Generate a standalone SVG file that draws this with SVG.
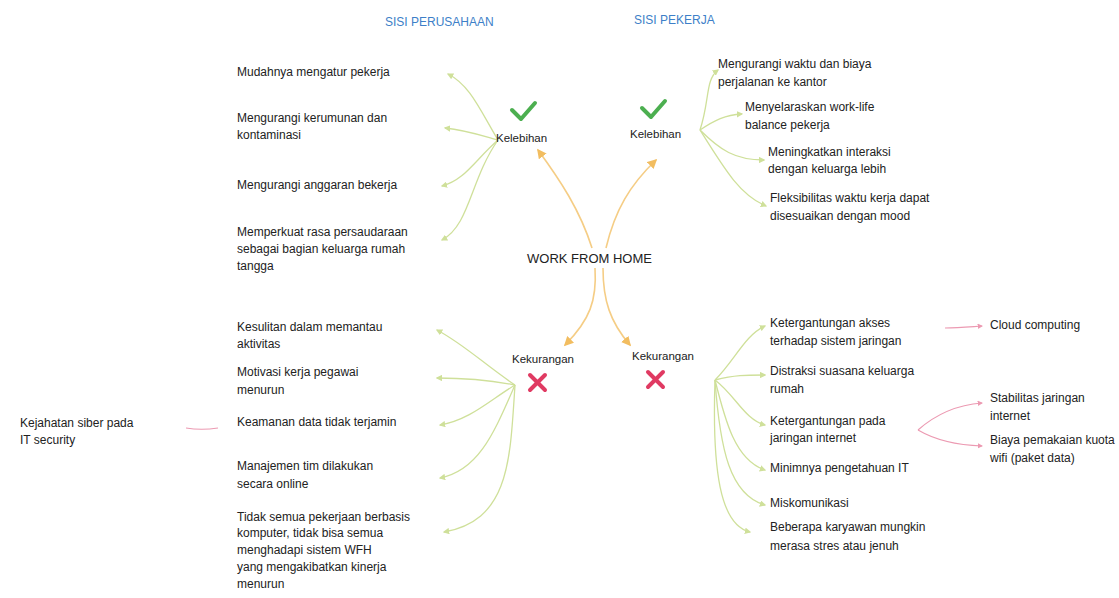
<svg xmlns="http://www.w3.org/2000/svg" width="1119" height="598" viewBox="0 0 1119 598">
<style>
text{font-family:"Liberation Sans","Noto Sans",Arial,sans-serif;fill:#222;font-size:12px}
.hdr{fill:#3d7fc8;font-size:12px}
.main{font-size:13px;fill:#222}
.lbl{font-size:11.5px}
.g{fill:none;stroke:#cfe09a;stroke-width:1.3}
.o{fill:none;stroke:#f5cd85;stroke-width:1.6}
.p{fill:none;stroke:#ec9ab2;stroke-width:1.1}
.ok{fill:none;stroke:#4caf50;stroke-width:4;stroke-linecap:round;stroke-linejoin:round}
.no{stroke:#e03a62;stroke-width:4;stroke-linecap:round}
</style>
<defs>
<marker id="ag" markerWidth="5" markerHeight="5" refX="4" refY="2.5" orient="auto"><path d="M0,0 L5,2.5 L0,5 z" fill="#cfe09a"/></marker>
<marker id="ao" markerWidth="6" markerHeight="6" refX="5" refY="3" orient="auto"><path d="M0,0 L6,3 L0,6 z" fill="#f2bd60"/></marker>
<marker id="ap" markerWidth="5" markerHeight="5" refX="4" refY="2.5" orient="auto"><path d="M0,0 L5,2.5 L0,5 z" fill="#ec9ab2"/></marker>
</defs>
<rect width="1119" height="598" fill="#fff"/>

<g id="connectors">
<path class="o" d="M592,248 C580,210 560,180 538,150" marker-end="url(#ao)"/>
<path class="o" d="M606,248 C615,210 630,185 656,160" marker-end="url(#ao)"/>
<path class="o" d="M595,268 C597,300 590,320 565,345" marker-end="url(#ao)"/>
<path class="o" d="M603,268 C603,300 610,322 630,345" marker-end="url(#ao)"/>

<path class="g" d="M498,140 C480,110 470,85 448,74" marker-end="url(#ag)"/>
<path class="g" d="M498,140 C480,135 465,130 445,128" marker-end="url(#ag)"/>
<path class="g" d="M498,140 C475,160 465,180 442,186" marker-end="url(#ag)"/>
<path class="g" d="M498,140 C470,180 470,225 442,240" marker-end="url(#ag)"/>

<path class="g" d="M700,130 C710,100 705,80 718,70" marker-end="url(#ag)"/>
<path class="g" d="M700,130 C715,120 725,115 742,114" marker-end="url(#ag)"/>
<path class="g" d="M700,130 C720,150 735,160 764,160" marker-end="url(#ag)"/>
<path class="g" d="M700,130 C725,170 740,195 766,206" marker-end="url(#ag)"/>

<path class="g" d="M515,385 C485,365 465,345 437,330" marker-end="url(#ag)"/>
<path class="g" d="M515,385 C490,380 470,378 437,378" marker-end="url(#ag)"/>
<path class="g" d="M515,385 C490,400 470,420 440,425" marker-end="url(#ag)"/>
<path class="g" d="M515,385 C495,430 480,470 440,478" marker-end="url(#ag)"/>
<path class="g" d="M515,385 C510,460 510,520 444,532" marker-end="url(#ag)"/>

<path class="g" d="M715,380 C735,360 745,335 765,326" marker-end="url(#ag)"/>
<path class="g" d="M715,380 C735,375 745,375 765,375" marker-end="url(#ag)"/>
<path class="g" d="M715,380 C735,395 745,420 765,425" marker-end="url(#ag)"/>
<path class="g" d="M715,380 C725,420 735,460 765,470" marker-end="url(#ag)"/>
<path class="g" d="M715,380 C720,450 730,495 765,505" marker-end="url(#ag)"/>
<path class="g" d="M715,380 C712,470 720,525 750,532" marker-end="url(#ag)"/>

<path class="p" d="M945,328 C958,328 968,327 982,326" marker-end="url(#ap)"/>
<path class="p" d="M918,430 C935,415 955,405 982,403" marker-end="url(#ap)"/>
<path class="p" d="M918,430 C935,440 955,445 982,446" marker-end="url(#ap)"/>
<path class="p" d="M218,428 C205,430 198,430 186,428"/>
</g>

<g id="hdr-perusahaan"><text class="hdr" x="385" y="26">SISI PERUSAHAAN</text></g>
<g id="hdr-pekerja"><text class="hdr" x="634" y="24">SISI PEKERJA</text></g>

<g id="center"><text class="main" x="527" y="263">WORK FROM HOME</text></g>

<g id="kelebihan-perusahaan">
<path class="ok" d="M512,110 L521,119 L535,103"/>
<text class="lbl" x="496" y="142">Kelebihan</text>
</g>
<g id="kelebihan-pekerja">
<path class="ok" d="M642,108 L651,117 L665,101"/>
<text class="lbl" x="630" y="138">Kelebihan</text>
</g>
<g id="kekurangan-perusahaan">
<text class="lbl" x="512" y="363">Kekurangan</text>
<line class="no" x1="530" y1="375" x2="545" y2="390"/><line class="no" x1="545" y1="375" x2="530" y2="390"/>
</g>
<g id="kekurangan-pekerja">
<text class="lbl" x="632" y="360">Kekurangan</text>
<line class="no" x1="648" y1="372" x2="663" y2="387"/><line class="no" x1="663" y1="372" x2="648" y2="387"/>
</g>

<g id="lp1"><text x="237" y="76">Mudahnya mengatur pekerja</text></g>
<g id="lp2"><text x="237" y="122">Mengurangi kerumunan dan</text><text x="237" y="139">kontaminasi</text></g>
<g id="lp3"><text x="237" y="189">Mengurangi anggaran bekerja</text></g>
<g id="lp4"><text x="237" y="236">Memperkuat rasa persaudaraan</text><text x="237" y="253">sebagai bagian keluarga rumah</text><text x="237" y="270">tangga</text></g>

<g id="rp1"><text x="718" y="68">Mengurangi waktu dan biaya</text><text x="718" y="86">perjalanan ke kantor</text></g>
<g id="rp2"><text x="745" y="111">Menyelaraskan work-life</text><text x="745" y="129">balance pekerja</text></g>
<g id="rp3"><text x="768" y="156">Meningkatkan interaksi</text><text x="768" y="173">dengan keluarga lebih</text></g>
<g id="rp4"><text x="770" y="202">Fleksibilitas waktu kerja dapat</text><text x="770" y="220">disesuaikan dengan mood</text></g>

<g id="lk1"><text x="237" y="331">Kesulitan dalam memantau</text><text x="237" y="348">aktivitas</text></g>
<g id="lk2"><text x="237" y="376">Motivasi kerja pegawai</text><text x="237" y="394">menurun</text></g>
<g id="lk3"><text x="237" y="426">Keamanan data tidak terjamin</text></g>
<g id="lk4"><text x="237" y="470">Manajemen tim dilakukan</text><text x="237" y="488">secara online</text></g>
<g id="lk5"><text x="237" y="521">Tidak semua pekerjaan berbasis</text><text x="237" y="537">komputer, tidak bisa semua</text><text x="237" y="554">menghadapi sistem WFH</text><text x="237" y="571">yang mengakibatkan kinerja</text><text x="237" y="588">menurun</text></g>
<g id="lk3a"><text x="20" y="427">Kejahatan siber pada</text><text x="20" y="444">IT security</text></g>

<g id="rk1"><text x="770" y="327">Ketergantungan akses</text><text x="770" y="345">terhadap sistem jaringan</text></g>
<g id="rk2"><text x="770" y="375">Distraksi suasana keluarga</text><text x="770" y="393">rumah</text></g>
<g id="rk3"><text x="770" y="425">Ketergantungan pada</text><text x="770" y="442">jaringan internet</text></g>
<g id="rk4"><text x="770" y="472">Minimnya pengetahuan IT</text></g>
<g id="rk5"><text x="770" y="507">Miskomunikasi</text></g>
<g id="rk6"><text x="770" y="531">Beberapa karyawan mungkin</text><text x="770" y="550">merasa stres atau jenuh</text></g>
<g id="rk1a"><text x="990" y="329">Cloud computing</text></g>
<g id="rk3a"><text x="990" y="402">Stabilitas jaringan</text><text x="990" y="420">internet</text></g>
<g id="rk3b"><text x="990" y="444">Biaya pemakaian kuota</text><text x="990" y="462">wifi (paket data)</text></g>
</svg>
